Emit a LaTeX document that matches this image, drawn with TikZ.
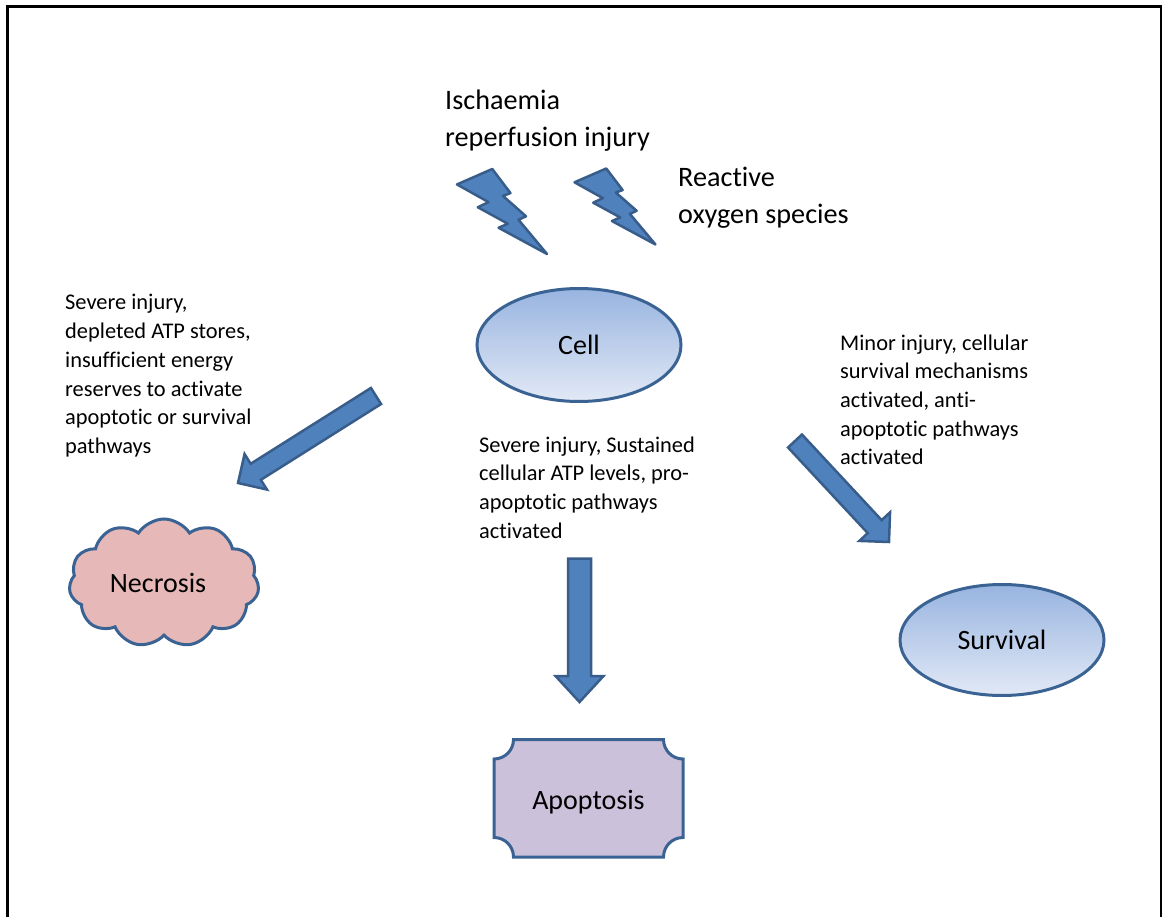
\documentclass[tikz,border=0pt]{standalone}
\usepackage{fontspec}
\setmainfont{Carlito}[Ligatures=NoCommon]
\usetikzlibrary{calc,shapes.geometric,shapes.symbols}

\definecolor{arrowfill}{HTML}{4F81BD}
\definecolor{arrowline}{HTML}{385D8A}
\definecolor{shapeline}{HTML}{3A6394}
\definecolor{cellhi}{HTML}{98B4E0}
\definecolor{celllo}{HTML}{E2E9F6}
\definecolor{necrosisfill}{HTML}{E6B9B8}
\definecolor{apoptosisfill}{HTML}{CCC1DA}

\tikzset{
  blockarrow/.style={fill=arrowfill, draw=arrowline, line width=2.5pt, line join=miter},
  boltshape/.style={fill=arrowfill, draw=arrowline, line width=2.5pt, line join=round},
  outcome/.style={ellipse, draw=shapeline, line width=3pt, top color=cellhi, bottom color=celllo,
    font=\fontsize{28}{34}\selectfont, inner sep=0},
  bigtext/.style={anchor=base west, inner sep=0, font=\fontsize{28.2}{37}\selectfont},
  smalltext/.style={anchor=base west, inner sep=0, font=\fontsize{22.4}{28.7}\selectfont},
  label28/.style={font=\fontsize{28}{34}\selectfont, inner sep=0},
}

% block arrow: tail, tip, half shaft width, half head width, head length
\newcommand\blockarrow[5]{%
  \coordinate (#1-hb) at ($(#2)!#5!(#1)$);
  \draw[blockarrow] ($(#1)!#3!90:(#2)$) -- ($(#1-hb)!#3!-90:(#1)$) -- ($(#1-hb)!#4!-90:(#1)$)
    -- (#2) -- ($(#1-hb)!#4!90:(#1)$) -- ($(#1-hb)!#3!90:(#1)$) -- ($(#1)!#3!-90:(#2)$) -- cycle;}

% lightning bolt in a unit box (x right, y down)
\newcommand\bolt{%
  \draw[boltshape] (0.3916,0) -- (0,0.1816) -- (0.3502,0.3896) -- (0.2312,0.45) -- (0.5647,0.6437)
    -- (0.4624,0.6914) -- (1,1) -- (0.6837,0.5977) -- (0.7666,0.5563) -- (0.5106,0.3167)
    -- (0.5940,0.2833) -- cycle;}

\begin{document}
\begin{tikzpicture}[x=1pt, y=-1pt]
\useasboundingbox (0,0) rectangle (1162,917);

% frame, open at the bottom
\draw[line width=3pt] (7,917) -- (7,7) -- (1161,7) -- (1161,917);

% causes
\node[bigtext] (ischaemia) at (445,110) {\vtop{\hbox{Ischaemia}\hbox{reperfusion injury}}};
\node[bigtext] (ros) at (678,187) {\vtop{\hbox{Reactive}\hbox{oxygen species}}};

\begin{scope}[shift={(457,169)}, x=90pt, y=-85pt]\bolt\end{scope}
\begin{scope}[shift={(574.5,168.5)}, x=81pt, y=-76pt]\bolt\end{scope}

% the cell
\node[outcome, minimum width=204pt, minimum height=113pt] (cell) at (579,345) {Cell};

% pathway descriptions
\node[smalltext] (necText) at (65,310) {\vtop{\hbox{Severe injury,}\hbox{depleted ATP stores,}\hbox{insufficient energy}\hbox{reserves to activate}\hbox{apoptotic or survival}\hbox{pathways}}};
\node[smalltext] (apoText) at (479,452) {\vtop{\hbox{Severe injury, Sustained}\hbox{cellular ATP levels, pro-}\hbox{apoptotic pathways}\hbox{activated}}};
\node[smalltext] (survText) at (840,350) {\vtop{\hbox{Minor injury, cellular}\hbox{survival mechanisms}\hbox{activated, anti-}\hbox{apoptotic pathways}\hbox{activated}}};

% block arrows
\coordinate (necTail) at (376,396);
\coordinate (necTip) at (238,483);
\coordinate (apoTail) at (579.5,558.5);
\coordinate (apoTip) at (579.5,702);
\coordinate (survTail) at (795,441);
\coordinate (survTip) at (889,542);
\blockarrow{necTail}{necTip}{9.5pt}{21pt}{21pt}
\blockarrow{apoTail}{apoTip}{11.5pt}{24pt}{26pt}
\blockarrow{survTail}{survTip}{9.5pt}{21pt}{21pt}

% outcomes
\node[cloud, cloud puffs=11, cloud puff arc=115, aspect=1.5, draw=shapeline, fill=necrosisfill,
  line width=3pt, minimum width=190pt, minimum height=128pt, inner sep=0, label28] (necrosis) at (164,583) {Necrosis\kern12pt};

\draw[fill=apoptosisfill, draw=shapeline, line width=3pt]
  (513.5,739.5) -- (663.5,739.5) arc[start angle=180, end angle=270, radius=19.5pt]
  -- (683,837.5) arc[start angle=90, end angle=180, radius=19.5pt]
  -- (513.5,857) arc[start angle=0, end angle=90, radius=19.5pt]
  -- (494,759) arc[start angle=270, end angle=360, radius=19.5pt] -- cycle;
\node[label28] (apoptosis) at (588.5,802) {Apoptosis};

\node[outcome, minimum width=204pt, minimum height=111pt] (survival) at (1002,640) {Survival};
\end{tikzpicture}
\end{document}
